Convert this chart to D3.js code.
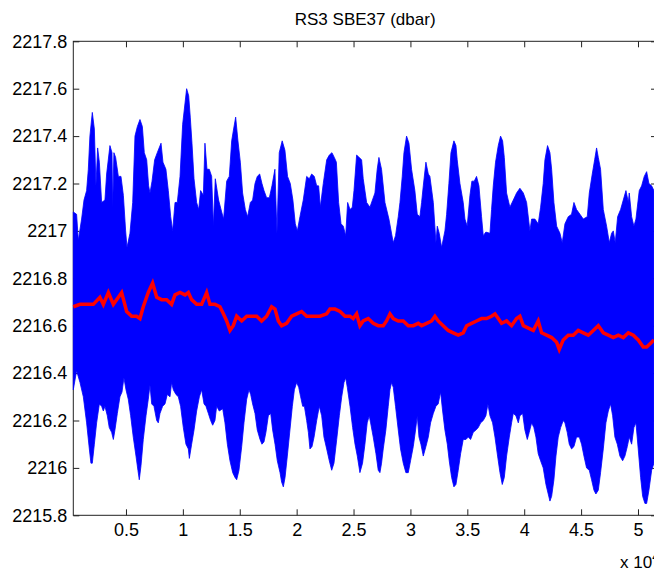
<!DOCTYPE html>
<html>
<head>
<meta charset="utf-8">
<script src="https://cdn.jsdelivr.net/npm/d3@7"></script>
<style>
    body { margin: 0; background: #fff; }
    text { font-family: "Liberation Sans", Arial, sans-serif; fill: #000; }
</style>
</head>
<body>
<div id="plot"></div>
<script>
var width = 654;
var height = 570;

// x values are in units of 10^4 (as on the axis)
var xTicks = [0.5, 1, 1.5, 2, 2.5, 3, 3.5, 4, 4.5, 5];
var yTicks = [2215.8, 2216, 2216.2, 2216.4, 2216.6, 2216.8, 2217, 2217.2, 2217.4, 2217.6, 2217.8];

// upper edge of the blue raw pressure band
var upperEnv = [
    [0.037, 2217.08], [0.066, 2217.07], [0.081, 2216.96], [0.110, 2217.05], [0.131, 2217.13], [0.154, 2217.17],
    [0.169, 2217.26], [0.183, 2217.40], [0.204, 2217.50], [0.222, 2217.43], [0.236, 2217.19], [0.251, 2217.35],
    [0.266, 2217.29], [0.286, 2217.12], [0.315, 2217.13], [0.330, 2217.24], [0.359, 2217.36], [0.377, 2217.33],
    [0.383, 2217.10], [0.394, 2217.33], [0.409, 2217.31], [0.433, 2217.23], [0.456, 2217.23], [0.477, 2217.15],
    [0.497, 2217.00], [0.509, 2216.93], [0.535, 2216.99], [0.559, 2217.12], [0.579, 2217.40], [0.600, 2217.44],
    [0.623, 2217.47], [0.644, 2217.44], [0.661, 2217.33], [0.682, 2217.30], [0.699, 2217.19], [0.711, 2217.16],
    [0.729, 2217.21], [0.752, 2217.30], [0.775, 2217.33], [0.808, 2217.37], [0.825, 2217.29], [0.851, 2217.26],
    [0.872, 2217.17], [0.893, 2217.06], [0.910, 2217.00], [0.931, 2217.12], [0.951, 2217.12], [0.975, 2217.23],
    [0.998, 2217.45], [1.019, 2217.54], [1.033, 2217.60], [1.051, 2217.57], [1.065, 2217.48], [1.080, 2217.37],
    [1.098, 2217.22], [1.121, 2217.12], [1.139, 2217.09], [1.156, 2217.17], [1.180, 2217.15], [1.194, 2217.37],
    [1.212, 2217.26], [1.232, 2217.26], [1.253, 2217.23], [1.268, 2217.02], [1.285, 2217.22], [1.314, 2217.13],
    [1.341, 2217.08], [1.358, 2217.05], [1.385, 2217.21], [1.408, 2217.23], [1.429, 2217.38], [1.446, 2217.43],
    [1.464, 2217.48], [1.484, 2217.38], [1.505, 2217.29], [1.525, 2217.16], [1.549, 2217.09], [1.569, 2217.06],
    [1.593, 2217.12], [1.613, 2217.13], [1.634, 2217.20], [1.654, 2217.23], [1.675, 2217.24], [1.695, 2217.20],
    [1.713, 2217.17], [1.736, 2217.14], [1.760, 2217.14], [1.783, 2217.19], [1.809, 2217.26], [1.827, 2216.99],
    [1.847, 2217.33], [1.873, 2217.38], [1.897, 2217.34], [1.920, 2217.23], [1.944, 2217.20], [1.967, 2217.13],
    [1.988, 2217.03], [2.006, 2217.00], [2.029, 2217.06], [2.058, 2217.13], [2.088, 2217.23], [2.111, 2217.22],
    [2.132, 2217.24], [2.155, 2217.23], [2.176, 2217.19], [2.193, 2217.19], [2.208, 2217.10], [2.234, 2217.20],
    [2.264, 2217.30], [2.287, 2217.32], [2.310, 2217.33], [2.331, 2217.31], [2.349, 2217.29], [2.369, 2217.12],
    [2.390, 2217.03], [2.410, 2217.02], [2.431, 2216.98], [2.448, 2217.12], [2.469, 2217.09], [2.489, 2217.10],
    [2.504, 2217.17], [2.527, 2217.32], [2.571, 2217.30], [2.585, 2217.22], [2.615, 2217.12], [2.644, 2217.10],
    [2.688, 2217.16], [2.708, 2217.26], [2.723, 2217.31], [2.746, 2217.26], [2.776, 2217.12], [2.811, 2217.05],
    [2.849, 2216.95], [2.869, 2216.98], [2.893, 2217.06], [2.908, 2217.12], [2.928, 2217.23], [2.943, 2217.33],
    [2.966, 2217.40], [2.987, 2217.37], [3.010, 2217.26], [3.039, 2217.17], [3.060, 2217.07], [3.083, 2217.06],
    [3.098, 2217.12], [3.113, 2217.19], [3.136, 2217.29], [3.157, 2217.24], [3.171, 2217.23], [3.201, 2217.12],
    [3.224, 2216.95], [3.236, 2217.02], [3.253, 2216.99], [3.274, 2216.93], [3.303, 2217.00], [3.318, 2217.07],
    [3.338, 2217.20], [3.356, 2217.33], [3.382, 2217.38], [3.400, 2217.36], [3.411, 2217.30], [3.435, 2217.20],
    [3.464, 2217.12], [3.479, 2217.05], [3.499, 2217.02], [3.523, 2217.15], [3.540, 2217.21], [3.561, 2217.21],
    [3.581, 2217.23], [3.602, 2217.19], [3.625, 2217.06], [3.640, 2216.98], [3.663, 2216.995], [3.699, 2216.99],
    [3.713, 2217.09], [3.728, 2217.19], [3.748, 2217.29], [3.772, 2217.36], [3.792, 2217.40], [3.810, 2217.38],
    [3.825, 2217.31], [3.845, 2217.16], [3.874, 2217.10], [3.904, 2217.13], [3.933, 2217.16], [3.962, 2217.18],
    [3.992, 2217.16], [4.021, 2217.12], [4.050, 2217.00], [4.065, 2217.05], [4.094, 2217.05], [4.123, 2217.03],
    [4.144, 2217.10], [4.167, 2217.20], [4.182, 2217.30], [4.205, 2217.36], [4.226, 2217.33], [4.241, 2217.26],
    [4.261, 2217.12], [4.285, 2217.02], [4.314, 2216.99], [4.334, 2216.95], [4.358, 2217.03], [4.387, 2217.06],
    [4.416, 2217.07], [4.437, 2217.12], [4.460, 2217.09], [4.490, 2217.07], [4.519, 2217.05], [4.554, 2217.06],
    [4.572, 2217.16], [4.598, 2217.24], [4.619, 2217.30], [4.636, 2217.35], [4.651, 2217.31], [4.671, 2217.26],
    [4.695, 2217.09], [4.724, 2217.02], [4.748, 2216.95], [4.768, 2216.99], [4.783, 2217.00], [4.800, 2216.95],
    [4.821, 2217.06], [4.847, 2217.09], [4.894, 2217.17], [4.915, 2217.12], [4.923, 2217.16], [4.944, 2217.06],
    [4.964, 2217.02], [4.982, 2217.05], [5.011, 2217.17], [5.032, 2217.19], [5.055, 2217.23], [5.076, 2217.25],
    [5.096, 2217.20], [5.120, 2217.19], [5.140, 2217.17]
];

// lower edge of the blue band
var lowerEnv = [
    [0.037, 2216.33], [0.066, 2216.41], [0.096, 2216.36], [0.125, 2216.30], [0.154, 2216.19], [0.178, 2216.08],
    [0.192, 2216.02], [0.204, 2216.02], [0.222, 2216.10], [0.242, 2216.19], [0.266, 2216.27], [0.286, 2216.26],
    [0.301, 2216.24], [0.315, 2216.26], [0.336, 2216.22], [0.353, 2216.17], [0.374, 2216.15], [0.389, 2216.12],
    [0.403, 2216.16], [0.424, 2216.23], [0.447, 2216.30], [0.465, 2216.32], [0.482, 2216.38], [0.500, 2216.33],
    [0.520, 2216.29], [0.541, 2216.22], [0.564, 2216.13], [0.588, 2216.05], [0.605, 2215.99], [0.617, 2215.95],
    [0.632, 2216.01], [0.652, 2216.12], [0.676, 2216.22], [0.696, 2216.29], [0.711, 2216.35], [0.726, 2216.27],
    [0.746, 2216.26], [0.770, 2216.20], [0.784, 2216.19], [0.799, 2216.23], [0.822, 2216.26], [0.843, 2216.27],
    [0.863, 2216.31], [0.887, 2216.30], [0.901, 2216.36], [0.916, 2216.33], [0.939, 2216.31], [0.960, 2216.30],
    [0.980, 2216.26], [1.004, 2216.17], [1.027, 2216.10], [1.048, 2216.08], [1.057, 2216.04], [1.077, 2216.10],
    [1.098, 2216.16], [1.121, 2216.24], [1.145, 2216.30], [1.165, 2216.33], [1.186, 2216.27], [1.203, 2216.26],
    [1.224, 2216.23], [1.244, 2216.20], [1.262, 2216.18], [1.282, 2216.20], [1.297, 2216.26], [1.320, 2216.24],
    [1.350, 2216.25], [1.370, 2216.19], [1.391, 2216.10], [1.414, 2216.03], [1.438, 2215.98], [1.458, 2215.96],
    [1.473, 2215.95], [1.493, 2215.99], [1.517, 2216.09], [1.537, 2216.19], [1.561, 2216.29], [1.581, 2216.33],
    [1.596, 2216.31], [1.613, 2216.27], [1.634, 2216.23], [1.654, 2216.16], [1.678, 2216.12], [1.695, 2216.10],
    [1.713, 2216.11], [1.730, 2216.15], [1.751, 2216.22], [1.772, 2216.23], [1.789, 2216.16], [1.810, 2216.10],
    [1.830, 2216.03], [1.854, 2215.98], [1.868, 2215.94], [1.883, 2215.92], [1.898, 2215.96], [1.918, 2216.05],
    [1.941, 2216.16], [1.962, 2216.26], [1.980, 2216.33], [2.000, 2216.36], [2.018, 2216.34], [2.035, 2216.30],
    [2.053, 2216.26], [2.068, 2216.26], [2.088, 2216.20], [2.103, 2216.15], [2.117, 2216.08], [2.135, 2216.09],
    [2.153, 2216.13], [2.176, 2216.20], [2.199, 2216.26], [2.220, 2216.22], [2.240, 2216.13], [2.264, 2216.08],
    [2.287, 2216.03], [2.308, 2215.99], [2.328, 2216.02], [2.352, 2216.12], [2.375, 2216.22], [2.396, 2216.30],
    [2.416, 2216.36], [2.431, 2216.38], [2.445, 2216.34], [2.469, 2216.26], [2.492, 2216.17], [2.513, 2216.10],
    [2.533, 2216.05], [2.556, 2215.98], [2.579, 2216.02], [2.600, 2216.10], [2.620, 2216.19], [2.638, 2216.22],
    [2.650, 2216.19], [2.673, 2216.13], [2.697, 2216.06], [2.717, 2215.99], [2.732, 2215.98], [2.746, 2216.02],
    [2.761, 2216.08], [2.784, 2216.16], [2.805, 2216.26], [2.820, 2216.33], [2.834, 2216.36], [2.849, 2216.34],
    [2.869, 2216.26], [2.893, 2216.16], [2.913, 2216.08], [2.937, 2216.02], [2.960, 2215.98], [2.981, 2215.98],
    [3.001, 2216.03], [3.025, 2216.09], [3.045, 2216.16], [3.060, 2216.22], [3.075, 2216.13], [3.092, 2216.10],
    [3.113, 2216.05], [3.136, 2216.09], [3.157, 2216.13], [3.177, 2216.19], [3.201, 2216.23], [3.224, 2216.26],
    [3.244, 2216.27], [3.265, 2216.32], [3.283, 2216.24], [3.303, 2216.16], [3.324, 2216.10], [3.341, 2216.03],
    [3.362, 2215.96], [3.382, 2215.92], [3.400, 2215.93], [3.420, 2215.99], [3.441, 2216.06], [3.464, 2216.12],
    [3.488, 2216.12], [3.508, 2216.13], [3.529, 2216.12], [3.552, 2216.15], [3.576, 2216.16], [3.596, 2216.17],
    [3.617, 2216.19], [3.640, 2216.20], [3.663, 2216.22], [3.681, 2216.27], [3.699, 2216.22], [3.722, 2216.19],
    [3.743, 2216.13], [3.766, 2216.05], [3.787, 2215.98], [3.807, 2215.93], [3.825, 2215.96], [3.845, 2216.05],
    [3.869, 2216.13], [3.889, 2216.19], [3.904, 2216.23], [3.927, 2216.22], [3.948, 2216.19], [3.962, 2216.22],
    [3.986, 2216.23], [4.006, 2216.16], [4.027, 2216.12], [4.044, 2216.15], [4.065, 2216.19], [4.085, 2216.17],
    [4.103, 2216.13], [4.123, 2216.06], [4.144, 2216.03], [4.167, 2216.00], [4.191, 2215.93], [4.211, 2215.89],
    [4.226, 2215.86], [4.241, 2215.88], [4.261, 2215.95], [4.279, 2216.05], [4.299, 2216.13], [4.320, 2216.17],
    [4.343, 2216.20], [4.358, 2216.19], [4.378, 2216.15], [4.396, 2216.10], [4.416, 2216.08], [4.437, 2216.09],
    [4.460, 2216.13], [4.484, 2216.13], [4.504, 2216.10], [4.525, 2216.05], [4.548, 2216.00], [4.572, 2215.99],
    [4.592, 2215.95], [4.613, 2215.906], [4.630, 2215.89], [4.651, 2215.906], [4.671, 2215.98], [4.695, 2216.08],
    [4.718, 2216.19], [4.739, 2216.24], [4.759, 2216.27], [4.777, 2216.22], [4.797, 2216.13], [4.818, 2216.10],
    [4.841, 2216.05], [4.865, 2216.03], [4.885, 2216.05], [4.906, 2216.09], [4.923, 2216.13], [4.944, 2216.10],
    [4.964, 2216.17], [4.982, 2216.19], [5.002, 2216.08], [5.023, 2215.96], [5.041, 2215.88], [5.061, 2215.85],
    [5.076, 2215.85], [5.096, 2215.906], [5.120, 2215.99], [5.140, 2216.02]
];

// red low-passed series
var redLine = [
    [0.037, 2216.68], [0.096, 2216.69], [0.154, 2216.69], [0.213, 2216.69], [0.271, 2216.72], [0.301, 2216.69],
    [0.345, 2216.74], [0.389, 2216.69], [0.433, 2216.72], [0.462, 2216.74], [0.506, 2216.66], [0.550, 2216.64],
    [0.594, 2216.64], [0.623, 2216.63], [0.652, 2216.68], [0.696, 2216.74], [0.734, 2216.78], [0.770, 2216.72],
    [0.813, 2216.71], [0.857, 2216.71], [0.901, 2216.69], [0.931, 2216.73], [0.975, 2216.74], [1.019, 2216.73],
    [1.048, 2216.74], [1.077, 2216.71], [1.121, 2216.69], [1.165, 2216.69], [1.209, 2216.74], [1.238, 2216.69],
    [1.282, 2216.69], [1.326, 2216.68], [1.356, 2216.65], [1.385, 2216.62], [1.414, 2216.58], [1.443, 2216.60],
    [1.473, 2216.64], [1.517, 2216.62], [1.561, 2216.64], [1.605, 2216.64], [1.649, 2216.64], [1.692, 2216.62],
    [1.736, 2216.64], [1.780, 2216.68], [1.810, 2216.67], [1.839, 2216.62], [1.868, 2216.60], [1.912, 2216.61],
    [1.956, 2216.64], [2.000, 2216.65], [2.044, 2216.66], [2.088, 2216.64], [2.147, 2216.64], [2.205, 2216.64],
    [2.264, 2216.65], [2.293, 2216.67], [2.337, 2216.67], [2.381, 2216.66], [2.425, 2216.64], [2.469, 2216.64],
    [2.497, 2216.63], [2.527, 2216.65], [2.556, 2216.60], [2.585, 2216.62], [2.629, 2216.63], [2.673, 2216.61],
    [2.717, 2216.60], [2.761, 2216.60], [2.790, 2216.62], [2.820, 2216.65], [2.849, 2216.63], [2.893, 2216.62],
    [2.937, 2216.62], [2.981, 2216.60], [3.025, 2216.60], [3.069, 2216.61], [3.098, 2216.60], [3.142, 2216.61],
    [3.186, 2216.62], [3.215, 2216.64], [3.244, 2216.62], [3.288, 2216.60], [3.332, 2216.58], [3.376, 2216.57],
    [3.420, 2216.56], [3.464, 2216.57], [3.494, 2216.60], [3.537, 2216.61], [3.581, 2216.62], [3.625, 2216.63],
    [3.669, 2216.63], [3.713, 2216.64], [3.743, 2216.65], [3.772, 2216.63], [3.801, 2216.61], [3.845, 2216.62],
    [3.889, 2216.60], [3.933, 2216.63], [3.962, 2216.64], [3.992, 2216.60], [4.036, 2216.59], [4.080, 2216.58],
    [4.123, 2216.62], [4.153, 2216.57], [4.197, 2216.56], [4.241, 2216.55], [4.285, 2216.53], [4.308, 2216.50],
    [4.343, 2216.54], [4.387, 2216.56], [4.431, 2216.56], [4.475, 2216.58], [4.519, 2216.57], [4.563, 2216.56],
    [4.607, 2216.58], [4.651, 2216.60], [4.695, 2216.57], [4.739, 2216.56], [4.783, 2216.55], [4.827, 2216.56],
    [4.871, 2216.55], [4.915, 2216.57], [4.959, 2216.56], [5.002, 2216.54], [5.046, 2216.51], [5.076, 2216.51],
    [5.120, 2216.53], [5.140, 2216.54]
];

// axes box (right side runs just past the window edge)
var boxL = 73.3, boxT = 41.3, boxR = 657, boxB = 515.3;
var tickLen = 6;

var svg = d3.select("#plot").append("svg")
    .attr("width", width)
    .attr("height", height);

var x = d3.scaleLinear()
    .domain([0.037, 5.167])
    .range([boxL, boxR]);

var y = d3.scaleLinear()
    .domain([2215.8, 2217.8])
    .range([boxB, boxT]);

// matlab draws the axes under the data, so axes go first
var axG = svg.append("g").attr("class", "axes");

axG.append("rect")
    .attr("x", boxL)
    .attr("y", boxT)
    .attr("width", boxR - boxL)
    .attr("height", boxB - boxT)
    .attr("fill", "none")
    .attr("stroke", "#222")
    .attr("stroke-width", 1);

axG.append("g")
    .attr("transform", "translate(0," + boxB + ")")
    .call(d3.axisBottom(x).tickValues(xTicks).tickSizeInner(-tickLen).tickSizeOuter(0).tickPadding(8)
        .tickFormat(d3.format("~g")));

axG.append("g")
    .attr("transform", "translate(0," + boxT + ")")
    .call(d3.axisTop(x).tickValues(xTicks).tickSizeInner(-tickLen).tickSizeOuter(0).tickFormat(""));

axG.append("g")
    .attr("transform", "translate(" + boxL + ",0)")
    .call(d3.axisLeft(y).tickValues(yTicks).tickSizeInner(-tickLen).tickSizeOuter(0).tickPadding(6)
        .tickFormat(d3.format("~g")));

axG.append("g")
    .attr("transform", "translate(" + boxR + ",0)")
    .call(d3.axisRight(y).tickValues(yTicks).tickSizeInner(-tickLen).tickSizeOuter(0).tickFormat(""));

axG.selectAll(".domain").remove();
axG.selectAll(".tick line").attr("stroke", "#222");
axG.selectAll(".tick text")
    .attr("font-family", "'Liberation Sans', Arial, sans-serif")
    .attr("font-size", 18)
    .attr("fill", "#111");

// blue band: upper edge left->right, lower edge back right->left
var line = d3.line()
    .x(d => x(d[0]))
    .y(d => y(d[1]));

var band = upperEnv.concat(lowerEnv.slice().reverse());

svg.append("path")
    .attr("d", line(band) + "Z")
    .attr("fill", "#0000ff")
    .attr("stroke", "#0000ff")
    .attr("stroke-width", 0.8);

svg.append("path")
    .datum(redLine)
    .attr("d", line)
    .attr("fill", "none")
    .attr("stroke", "#ff0000")
    .attr("stroke-width", 3.5)
    .attr("stroke-linejoin", "miter");

// title and exponent label
svg.append("text")
    .attr("x", (boxL + boxR) / 2)
    .attr("y", 25)
    .attr("text-anchor", "middle")
    .attr("font-size", 17)
    .text("RS3 SBE37 (dbar)");

var expo = svg.append("text")
    .attr("x", 620)
    .attr("y", 568)
    .attr("font-size", 17);
expo.append("tspan").text("x 10");
expo.append("tspan").attr("dy", -7).attr("font-size", 12).text("4");
</script>
</body>
</html>
